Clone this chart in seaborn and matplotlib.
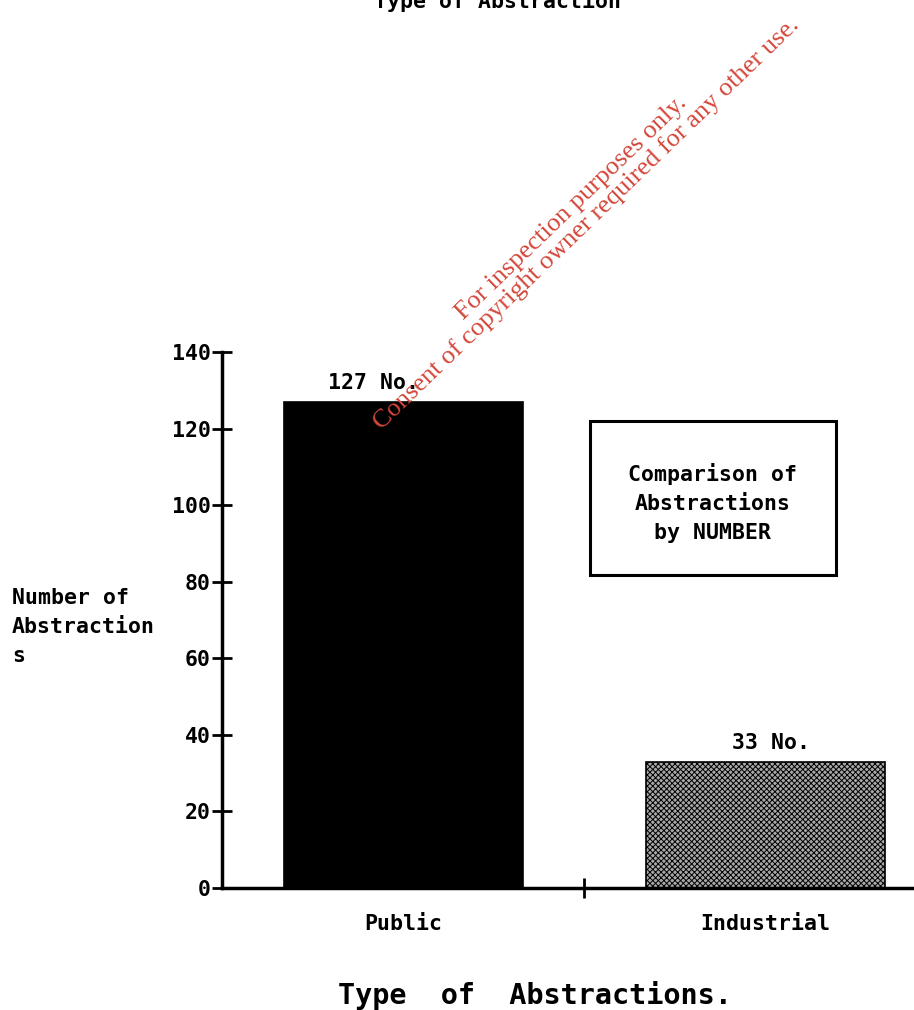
import matplotlib
matplotlib.use("Agg")
import matplotlib.pyplot as plt
from matplotlib.patches import Rectangle
import seaborn as sns

# Data
categories = ["Public", "Industrial"]
counts = [127, 33]
bar_labels = ["127 No.", "33 No."]
y_ticks = [0, 20, 40, 60, 80, 100, 120, 140]

sns.set_style("white")
plt.rcParams["font.family"] = ["DejaVu Sans Mono"]
plt.rcParams["font.weight"] = "bold"
plt.rcParams["hatch.linewidth"] = 0.7
for key in ("text.color", "axes.labelcolor", "xtick.color", "ytick.color"):
    plt.rcParams[key] = "black"

W, H = 914, 1010
fig = plt.figure(figsize=(W / 100, H / 100), dpi=100)
fig.patch.set_facecolor("white")
ax = fig.add_axes([222 / W, 122 / H, 692 / W, 536 / H])
ax.set_facecolor("white")

sns.barplot(x=categories, y=counts, hue=categories, legend=False,
            palette=["#000000", "#a8a8a8"], saturation=1, width=0.66,
            edgecolor="black", linewidth=1.2, ax=ax)
ax.patches[1].set_hatch("xxxxxx")

ax.set_xlim(-0.5, 1.41)
ax.set_ylim(0, 140)

# axes styling
for side in ("top", "right"):
    ax.spines[side].set_visible(False)
for side in ("left", "bottom"):
    ax.spines[side].set_linewidth(2.5)
    ax.spines[side].set_color("black")

ax.set_yticks(y_ticks)
ax.set_yticklabels([str(t) for t in y_ticks], fontsize=15.5, fontweight="bold")
ax.tick_params(axis="y", left=True, direction="inout", length=14, width=2,
               pad=1, colors="black")

ax.set_xticks([0.5])
ax.set_xticklabels([""])
ax.set_xticks([0, 1], minor=True)
ax.set_xticklabels(categories, minor=True, fontsize=15.5, fontweight="bold")
ax.tick_params(axis="x", which="major", bottom=True, direction="inout",
               length=14, width=2, colors="black")
ax.tick_params(axis="x", which="minor", bottom=True, length=0, pad=19)
ax.set_xlabel("")
ax.set_ylabel("")

# value labels above bars
label_dx = [-21, 4]
for i, (v, lab) in enumerate(zip(counts, bar_labels)):
    ax.annotate(lab, xy=(i, v), xytext=(label_dx[i], 6), textcoords="offset points",
                ha="center", va="bottom", fontsize=15.5, fontweight="bold")

# axis titles
fig.text(12 / W, 1 - 627 / H, "Number of\nAbstraction\ns", ha="left", va="center",
         fontsize=15.5, fontweight="bold", linespacing=1.55)
fig.text(535 / W, 1 - 995 / H, "Type  of  Abstractions.", ha="center", va="center",
         fontsize=20.5, fontweight="bold")
fig.text(497 / W, 1 - 8 / H, "Type of Abstraction", ha="center", va="baseline",
         fontsize=15.5, fontweight="bold")

# boxed caption
fig.patches.append(Rectangle((590 / W, 1 - 575 / H), 246 / W, 154 / H,
                             transform=fig.transFigure, facecolor="white",
                             edgecolor="black", linewidth=2.2, zorder=3))
fig.text(713 / W, 1 - 503 / H, "Comparison of\nAbstractions\nby NUMBER",
         ha="center", va="center", multialignment="center",
         fontsize=15.5, fontweight="bold", linespacing=1.55, zorder=4)

# rotated notice
fig.text(579 / W, 1 - 216 / H,
         "For inspection purposes only.\nConsent of copyright owner required for any other use.",
         rotation=44, rotation_mode="anchor", ha="center", va="center",
         multialignment="center", color="#d4463a", family="Liberation Serif",
         fontweight="normal", fontsize=19, linespacing=0.95, zorder=5)

fig.savefig("out.png", dpi=100, facecolor="white")
